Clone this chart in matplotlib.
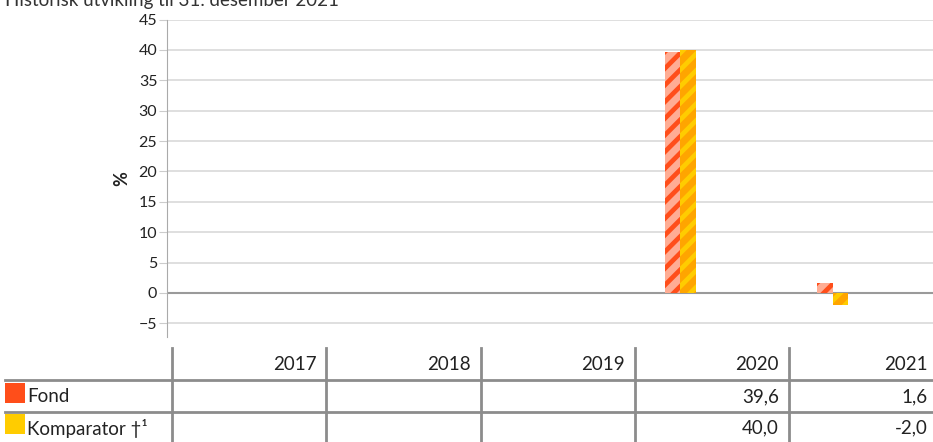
import matplotlib.pyplot as plt
import numpy as np

# data
years = ['2017', '2018', '2019', '2020', '2021']
fond = [None, None, None, 39.6, 1.6]
komparator = [None, None, None, 40.0, -2.0]
series_names = ['Fond', 'Komparator \u2020\u00b9']
title = 'Historisk utvikling til 31. desember 2021'

plt.rcParams['font.family'] = ['Lato', 'DejaVu Sans']
plt.rcParams['hatch.linewidth'] = 3.4

W, H = 933, 442
fig = plt.figure(figsize=(W / 100, H / 100), dpi=100)

# chart area
ax = fig.add_axes([167 / W, (H - 336.7) / H, (W - 167) / W, (336.7 - 19.6) / H])
x = np.arange(len(years))
bw = 0.102
fv = np.array([np.nan if v is None else v for v in fond])
kv = np.array([np.nan if v is None else v for v in komparator])
ax.bar(x - bw / 2, fv, bw, facecolor='#FFAD94', edgecolor='#FF4E1A', hatch='//', linewidth=0, zorder=3)
ax.bar(x + bw / 2, kv, bw, facecolor='#FFA500', edgecolor='#FFCC00', hatch='//', linewidth=0, zorder=3)

ax.set_xlim(-0.375, 4.66)
ax.set_ylim(-7.2, 45)
ax.set_yticks(np.arange(-5, 46, 5))
ax.yaxis.grid(True, color='#d9d9d9', linewidth=1.2)
ax.axhline(0, color='#9a9a9a', linewidth=1.5, zorder=2)
ax.set_axisbelow(True)
ax.set_xticks([])
for s in ['top', 'right', 'bottom']:
    ax.spines[s].set_visible(False)
ax.spines['left'].set_color('#aaaaaa')
ax.tick_params(axis='y', length=6, color='#cccccc', labelsize=11.5, labelcolor='#222222', pad=1)
ax.set_ylabel('%', fontsize=13, color='#222222', labelpad=6, fontweight='bold')

fig.text(5 / W, (H - 6) / H, title, fontsize=13.5, color='#333333', ha='left', va='baseline')

# table below the chart, drawn in pixel coordinates
tab = fig.add_axes([0, 0, 1, 1], zorder=-1)
tab.set_xlim(0, W)
tab.set_ylim(H, 0)
tab.axis('off')
col_left = 172
col_w = 154.25
line_col = '#8c8c8c'
for i in range(len(years)):
    xl = col_left + i * col_w
    tab.plot([xl, xl], [348, H], color=line_col, lw=2)
for yl in [380, 412]:
    tab.plot([5, W], [yl, yl], color=line_col, lw=2)

txt = dict(fontsize=13.5, color='#222222', va='center', ha='right')
row_y = [364, 397, 428]
for i, yr in enumerate(years):
    xr = col_left + (i + 1) * col_w - 10
    tab.text(min(xr, W - 5), row_y[0], yr, **txt)
    for r, vals in enumerate([fond, komparator]):
        if vals[i] is not None:
            s = '{:.1f}'.format(vals[i]).replace('.', ',')
            tab.text(min(xr, W - 5), row_y[r + 1], s, **txt)

for r, (name, c) in enumerate(zip(series_names, ['#FF4E1A', '#FFCC00'])):
    yc = row_y[r + 1]
    tab.add_patch(plt.Rectangle((5, yc - 14), 20, 20, color=c, lw=0))
    tab.text(27, yc, name, fontsize=13.5, color='#222222', va='center', ha='left')

fig.savefig('out.png', dpi=100)
